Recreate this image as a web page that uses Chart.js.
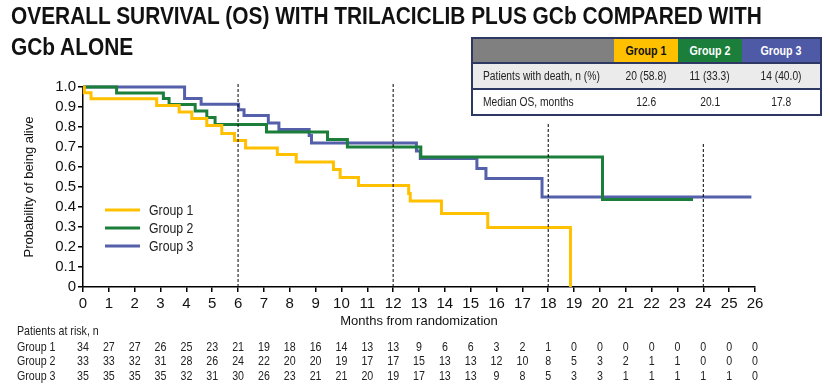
<!DOCTYPE html>
<html>
<head>
<meta charset="utf-8">
<script src="https://cdn.jsdelivr.net/npm/chart.js@4.4.1/dist/chart.umd.min.js"></script>
<style>
  body { margin: 0; background: #fff; }
  #wrap { position: relative; width: 830px; height: 386px; overflow: hidden; }
  canvas { position: absolute; left: 0; top: 0; }
  #title {
    position: absolute; left: 11px; top: 0px; white-space: nowrap;
    font: bold 24px 'Liberation Sans', Arial, sans-serif;
    line-height: 31px; color: #111;
    transform: scaleX(0.87); transform-origin: left top;
  }
  table.stats {
    position: absolute; left: 471px; top: 37px; width: 351px;
    table-layout: fixed;
    border-collapse: collapse; border: 2px solid #2d3963;
    font: 12.5px 'Liberation Sans', Arial, sans-serif; color: #222;
  }
  table.stats td { padding: 0; text-align: center; white-space: nowrap; overflow: visible; }
  table.stats tr.head td { height: 23px; font-weight: bold; font-size: 13px; }
  table.stats tr.r1 td { height: 24px; background: #ebebeb; border-top: 2px solid #2d3963; }
  table.stats tr.r2 td { height: 24px; background: #fff; border-top: 2px solid #2d3963; }
  table.stats td.lab { text-align: left; padding-left: 10px; }
  .nar { display: inline-block; transform: scaleX(0.82); transform-origin: center; }
  td.lab .nar { transform-origin: left center; }
</style>
</head>
<body>
<div id="wrap">
  <canvas id="myChart" width="830" height="386"></canvas>
  <div id="title">OVERALL SURVIVAL (OS) WITH TRILACICLIB PLUS GCb COMPARED WITH<br>GCb ALONE</div>
  <table class="stats">
    <colgroup><col style="width:142px"><col style="width:64px"><col style="width:64px"><col></colgroup>
    <tr class="head">
      <td style="background:#808080"></td>
      <td style="background:#ffc000;color:#111"><span class="nar">Group 1</span></td>
      <td style="background:#1b7f3b;color:#fff"><span class="nar">Group 2</span></td>
      <td style="background:#4f5aa6;color:#fff"><span class="nar">Group 3</span></td>
    </tr>
    <tr class="r1">
      <td class="lab"><span class="nar">Patients with death, n (%)</span></td>
      <td><span class="nar">20 (58.8)</span></td>
      <td><span class="nar">11 (33.3)</span></td>
      <td><span class="nar">14 (40.0)</span></td>
    </tr>
    <tr class="r2">
      <td class="lab"><span class="nar">Median OS, months</span></td>
      <td><span class="nar">12.6</span></td>
      <td><span class="nar">20.1</span></td>
      <td><span class="nar">17.8</span></td>
    </tr>
  </table>
</div>
<script>
const fontFam = "'Liberation Sans', Arial, sans-serif";

// Kaplan-Meier steps (month, survival after the drop)
const groupNames = ['Group 1', 'Group 2', 'Group 3'];
const g1Time = [0, 0.05, 0.31, 2.85, 3.72, 4.21, 4.79, 5.37, 5.86, 6.29, 7.52, 8.25, 9.69, 9.95, 10.66, 12.6, 12.66, 13.87, 15.66, 18.86];
const g1Surv = [1.0, 0.971, 0.941, 0.908, 0.875, 0.842, 0.808, 0.767, 0.733, 0.695, 0.663, 0.625, 0.587, 0.547, 0.507, 0.467, 0.43, 0.367, 0.297, 0];
const g2Time = [0, 1.3, 3.11, 3.33, 4.34, 4.79, 5.11, 7.1, 9.46, 10.23, 13.07, 20.1, 23.6];
const g2Surv = [1.0, 0.97, 0.942, 0.913, 0.88, 0.847, 0.813, 0.775, 0.738, 0.70, 0.65, 0.437, 0.437];
const g3Time = [0, 3.93, 4.57, 6.02, 6.23, 7.17, 7.58, 8.75, 8.84, 12.9, 13.05, 15.24, 15.59, 17.76, 25.86];
const g3Surv = [1.0, 0.943, 0.914, 0.886, 0.857, 0.82, 0.787, 0.758, 0.72, 0.68, 0.642, 0.592, 0.542, 0.45, 0.45];

// dashed reference lines
const refMonths = [6, 12, 18, 24];
const refTops = [1.015, 1.015, 0.825, 0.725];

// patients at risk, one value per month 0..26
const risk1 = [34, 27, 27, 26, 25, 23, 21, 19, 18, 16, 14, 13, 13, 9, 6, 6, 3, 2, 1, 0, 0, 0, 0, 0, 0, 0, 0];
const risk2 = [33, 33, 32, 31, 28, 26, 24, 22, 20, 20, 19, 17, 17, 15, 13, 13, 12, 10, 8, 5, 3, 2, 1, 1, 0, 0, 0];
const risk3 = [35, 35, 35, 35, 32, 31, 30, 26, 23, 21, 21, 20, 19, 17, 13, 13, 9, 8, 5, 3, 3, 1, 1, 1, 1, 1, 0];

const colors = ['#ffc000', '#1b7f3b', '#5560aa'];

function toPoints(times, surv) {
    return times.map((t, i) => ({ x: t, y: surv[i] }));
}

const curves = [[g1Time, g1Surv], [g2Time, g2Surv], [g3Time, g3Surv]].map((g, i) => ({
    label: groupNames[i],
    data: toPoints(g[0], g[1]),
    borderColor: colors[i],
    borderWidth: 3,
    stepped: true,
    pointRadius: 0,
    fill: false,
    clip: false
}));

const refLines = refMonths.map((m, i) => ({
    label: 'ref',
    data: [{ x: m, y: 0 }, { x: m, y: refTops[i] }],
    borderColor: '#000',
    borderWidth: 1,
    borderDash: [3, 2],
    pointRadius: 0,
    fill: false,
    clip: false
}));

// narrow text helper (the source uses a condensed face)
function narrowText(ctx, str, x, y, align) {
    const k = 0.82;
    ctx.save();
    ctx.translate(x, y);
    ctx.scale(k, 1);
    ctx.textAlign = align;
    ctx.fillText(str, 0, 0);
    ctx.restore();
}

// legend drawn inside the plot + at-risk table under the axis
const extras = {
    id: 'extras',
    afterDraw(chart) {
        const ctx = chart.ctx;
        const xs = chart.scales.x;
        ctx.save();
        ctx.textBaseline = 'middle';
        // legend
        ctx.font = '15px ' + fontFam;
        groupNames.forEach((name, i) => {
            const y = 210 + i * 18;
            ctx.strokeStyle = colors[i];
            ctx.lineWidth = 3;
            ctx.beginPath();
            ctx.moveTo(105, y);
            ctx.lineTo(140, y);
            ctx.stroke();
            ctx.fillStyle = '#222';
            narrowText(ctx, name, 149, y + 1, 'left');
        });
        // at-risk table
        ctx.font = '13px ' + fontFam;
        ctx.fillStyle = '#222';
        narrowText(ctx, 'Patients at risk, n', 17, 331, 'left');
        [risk1, risk2, risk3].forEach((row, r) => {
            const y = 347 + r * 14.5;
            narrowText(ctx, groupNames[r], 17, y, 'left');
            row.forEach((n, i) => narrowText(ctx, String(n), xs.getPixelForValue(i), y, 'center'));
        });
        ctx.restore();
    }
};

const ctx = document.getElementById('myChart').getContext('2d');

const myChart = new Chart(ctx, {
    type: 'line',
    data: { datasets: refLines.concat(curves) },
    options: {
        responsive: false,
        animation: false,
        layout: { padding: { left: 0, right: 75, top: 87, bottom: 0 } },
        scales: {
            x: {
                type: 'linear',
                min: 0,
                max: 26,
                ticks: { stepSize: 1, autoSkip: false, color: '#111', font: { family: fontFam, size: 15 }, padding: 3, maxRotation: 0 },
                grid: { drawOnChartArea: false, tickLength: 5, color: '#000', lineWidth: 1.5 },
                border: { color: '#000', width: 1.5 },
                title: {
                    display: true,
                    text: 'Months from randomization',
                    color: '#111',
                    font: { family: fontFam, size: 13 },
                    padding: { top: 0, bottom: 57 }
                },
                afterFit: (scale) => { scale.height = 99; }
            },
            y: {
                min: 0,
                max: 1,
                ticks: {
                    stepSize: 0.1,
                    autoSkip: false,
                    color: '#111',
                    font: { family: fontFam, size: 15 },
                    padding: 2,
                    callback: (v) => (v === 0 ? '0' : v.toFixed(1))
                },
                grid: { drawOnChartArea: false, tickLength: 5, color: '#000', lineWidth: 1.5 },
                border: { color: '#000', width: 1.5 },
                title: {
                    display: true,
                    text: 'Probability of being alive',
                    color: '#111',
                    font: { family: fontFam, size: 13 },
                    padding: { top: 22 }
                },
                afterFit: (scale) => { scale.width = 83; }
            }
        },
        plugins: {
            legend: { display: false },
            tooltip: { enabled: false }
        }
    },
    plugins: [extras]
});
</script>
</body>
</html>
